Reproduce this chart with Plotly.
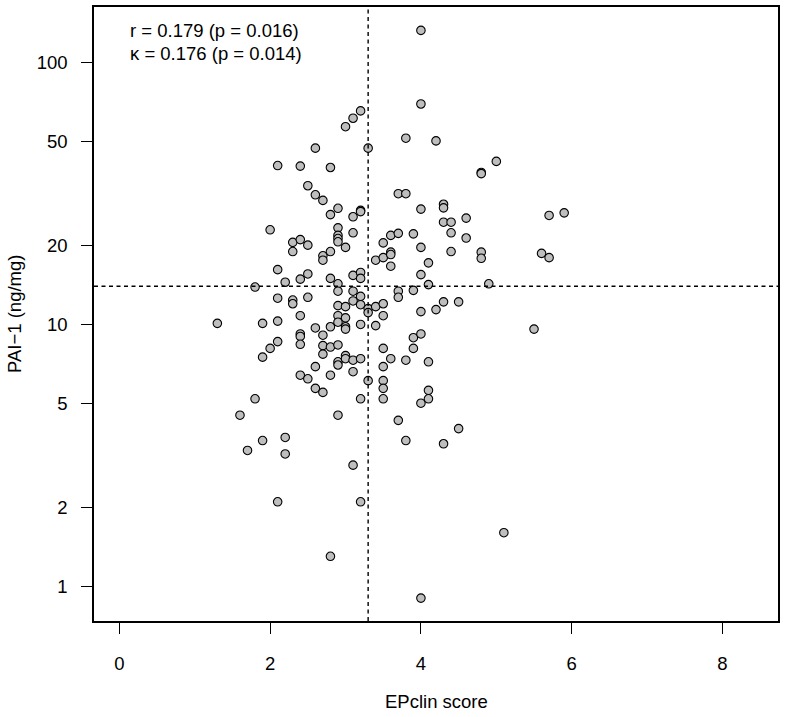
import numpy as np
import plotly.graph_objects as go

# EPclin score (x) and PAI-1 (ng/mg) (y)
epclin = [
    1.3, 1.6, 1.7, 1.8, 1.8, 1.9, 1.9, 1.9, 2.0, 2.0,
    2.1, 2.1, 2.1, 2.1, 2.1, 2.1,
    2.2, 2.2, 2.2,
    2.3, 2.3, 2.3, 2.3,
    2.4, 2.4, 2.4, 2.4, 2.4, 2.4, 2.4, 2.4,
    2.5, 2.5, 2.5, 2.5, 2.5,
    2.6, 2.6, 2.6, 2.6, 2.6,
    2.7, 2.7, 2.7, 2.7, 2.7, 2.7, 2.7,
    2.8, 2.8, 2.8, 2.8, 2.8, 2.8, 2.8, 2.8,
    2.9, 2.9, 2.9, 2.9, 2.9, 2.9, 2.9, 2.9, 2.9, 2.9, 2.9, 2.9, 2.9, 2.9,
    3.0, 3.0, 3.0, 3.0, 3.0, 3.0, 3.0, 3.0,
    3.1, 3.1, 3.1, 3.1, 3.1, 3.1, 3.1, 3.1, 3.1,
    3.2, 3.2, 3.2, 3.2, 3.2, 3.2, 3.2, 3.2, 3.2, 3.2, 3.2,
    3.3, 3.3, 3.3, 3.3,
    3.4, 3.4, 3.4,
    3.5, 3.5, 3.5, 3.5, 3.5, 3.5, 3.5, 3.5, 3.5,
    3.6, 3.6, 3.6, 3.6, 3.6,
    3.7, 3.7, 3.7, 3.7, 3.7,
    3.8, 3.8, 3.8, 3.8,
    3.9, 3.9, 3.9, 3.9,
    4.0, 4.0, 4.0, 4.0, 4.0, 4.0, 4.0, 4.0, 4.0,
    4.1, 4.1, 4.1, 4.1, 4.1,
    4.2, 4.2,
    4.3, 4.3, 4.3, 4.3, 4.3,
    4.4, 4.4, 4.4,
    4.5, 4.5,
    4.6, 4.6,
    4.8, 4.8, 4.8, 4.8,
    4.9, 5.0, 5.1, 5.5, 5.6, 5.7, 5.7, 5.9,
]
pai1 = [
    10.1, 4.5, 3.3, 13.9, 5.2, 10.1, 7.5, 3.6, 23.0, 8.1,
    40.5, 16.2, 12.6, 10.3, 8.6, 2.1,
    14.5, 3.7, 3.2,
    20.6, 19.0, 12.4, 12.0,
    40.3, 21.1, 14.9, 10.8, 9.2, 9.0, 8.4, 6.4,
    33.9, 20.1, 15.6, 12.7, 6.2,
    47.2, 31.3, 9.7, 6.9, 5.7,
    29.8, 18.3, 17.6, 9.1, 8.3, 7.7, 5.5,
    39.8, 26.3, 19.0, 15.0, 9.8, 8.2, 6.4, 1.3,
    27.8, 23.4, 21.9, 21.3, 20.7, 14.3, 13.4, 11.8, 10.8, 10.2, 8.35, 7.2, 7.0, 4.5,
    57.0, 19.7, 11.7, 10.6, 9.8, 9.6, 7.6, 7.4,
    61.4, 25.8, 22.4, 15.4, 13.4, 12.3, 7.3, 6.6, 2.9,
    65.5, 27.3, 27.0, 15.8, 15.0, 12.8, 11.9, 10.0, 7.4, 5.2, 2.1,
    47.2, 11.5, 11.1, 6.1,
    17.6, 11.7, 9.9,
    20.5, 18.0, 12.0, 10.8, 8.1, 6.9, 6.1, 5.7, 5.2,
    21.9, 18.9, 18.5, 16.7, 7.4,
    31.6, 22.3, 13.4, 12.7, 4.3,
    51.5, 31.6, 7.3, 3.6,
    22.2, 13.5, 8.9, 8.1,
    133.0, 69.6, 27.6, 19.7, 15.5, 11.2, 9.2, 5.0, 0.9,
    17.2, 14.2, 7.2, 5.6, 5.2,
    50.3, 11.4,
    28.8, 27.9, 24.6, 12.2, 3.5,
    24.6, 22.4, 19.0,
    12.2, 4.0,
    25.5, 21.4,
    38.1, 37.7, 18.9, 17.9,
    14.3, 42.0, 1.6, 9.6, 18.7, 26.1, 18.0, 26.7,
]

x_cut = 3.3
y_cut = 14
x_range = [-0.336, 8.736]
y_range_log = [-0.1333, 2.2133]
x_ticks = [0, 2, 4, 6, 8]
y_ticks = [1, 2, 5, 10, 20, 50, 100]
stat_lines = ["r = 0.179 (p = 0.016)", "\u03ba = 0.176 (p = 0.014)"]
x_title = "EPclin score"
y_title = "PAI\u22121 (ng/mg)"

FONT = "Liberation Sans, Arial, Helvetica, sans-serif"
FS = 18.5

fig = go.Figure()
fig.add_trace(go.Scatter(
    x=epclin, y=pai1, mode="markers", showlegend=False,
    marker=dict(size=8.5, color="#BEBEBE", line=dict(color="black", width=1.1)),
))

dash = "4px,3.5px"
fig.add_shape(type="line", xref="x", yref="paper", x0=x_cut, x1=x_cut, y0=0, y1=1,
              line=dict(color="black", width=1.4, dash=dash))
fig.add_shape(type="line", xref="paper", yref="y", x0=0, x1=1,
              y0=y_cut, y1=y_cut,
              line=dict(color="black", width=1.4, dash=dash))

axis_common = dict(
    showgrid=False, zeroline=False, showline=True, linecolor="black", linewidth=1.5,
    mirror=True, ticks="outside", ticklen=11, tickwidth=1.3, tickcolor="black",
    tickfont=dict(family=FONT, size=FS, color="black"),
)
fig.update_xaxes(range=x_range, tickvals=x_ticks, ticktext=[str(v) for v in x_ticks],
                 ticklabelstandoff=14, **axis_common)
fig.update_yaxes(type="log", range=y_range_log, tickvals=y_ticks,
                 ticktext=[str(v) for v in y_ticks], ticklabelstandoff=10, **axis_common)

# stats text
for i, line in enumerate(stat_lines):
    fig.add_annotation(text=line, xref="paper", yref="paper", x=(128 - 94) / 686,
                       y=1 - (29 + 23 * i - 5) / 616, xanchor="left", yanchor="middle",
                       showarrow=False, font=dict(family=FONT, size=FS, color="black"))

# axis titles
fig.add_annotation(text=x_title, xref="paper", yref="paper", x=0.5, y=0,
                   xanchor="center", yanchor="middle", yshift=-80, showarrow=False,
                   font=dict(family=FONT, size=FS, color="black"))
fig.add_annotation(text=y_title, xref="paper", yref="paper", x=0, y=0.5,
                   xanchor="center", yanchor="middle", xshift=-80, textangle=-90,
                   showarrow=False, font=dict(family=FONT, size=FS, color="black"))

fig.update_layout(
    width=785, height=717,
    margin=dict(l=94, r=5, t=5, b=96, pad=0),
    plot_bgcolor="white", paper_bgcolor="white",
)
fig.write_html("out.html", config={"displayModeBar": False},
               post_script="document.body.style.margin='0';document.body.style.overflow='hidden';")
